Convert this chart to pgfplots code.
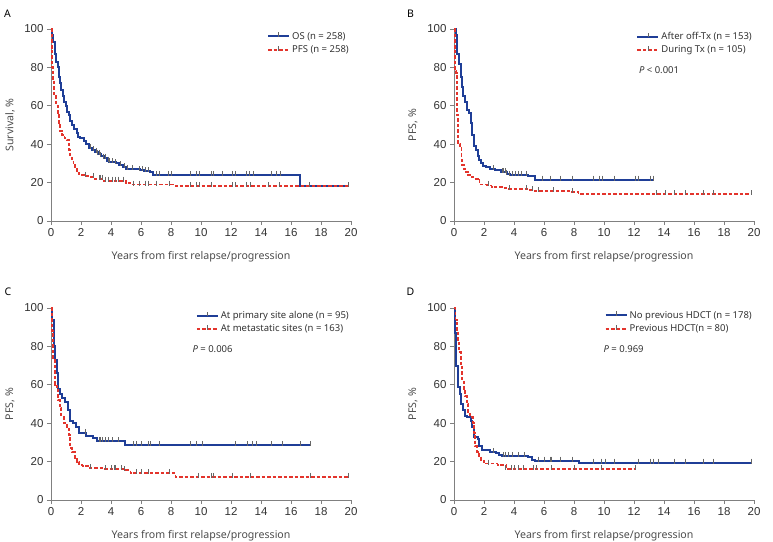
\documentclass[border=0pt]{standalone}
\usepackage{fontspec}
\setmainfont{Noto Sans}
\newfontfamily\tickfont{Liberation Sans}
\usepackage{pgfplots}
\pgfplotsset{compat=1.18}
\definecolor{kmblue}{HTML}{1F3E97}
\definecolor{kmred}{HTML}{E3342C}
\definecolor{axgray}{HTML}{808080}

\pgfplotsset{
  km/.style={
    scale only axis, width=300pt, height=192pt,
    xmin=0,xmax=20,ymin=0,ymax=100,
    axis lines*=left,
    axis line style={axgray, line width=0.8pt},
    xtick={0,2,...,20}, ytick={0,20,...,100},
    tick align=outside, major tick length=4pt,
    tick style={axgray, line width=0.8pt},
    ticklabel style={font=\tickfont\fontsize{11.5}{13}\selectfont, text=black!80},
    /pgf/number format/assume math mode=true,
    xlabel={Years from first relapse/progression},
    every axis x label/.style={at={([yshift=-36pt]axis description cs:0.5,0)}, anchor=center, font=\fontsize{10.6}{12}\selectfont, text=black!70},
    every axis y label/.style={at={([xshift=-41pt]axis description cs:0,0.5)}, rotate=90, anchor=center, font=\fontsize{10.6}{12}\selectfont, text=black!70},
    legend style={draw=none, fill=none, inner sep=0pt, font=\fontsize{9.5}{11}\selectfont, text=black!80, cells={anchor=west}, row sep=1pt, at={(1.0,0.995)}, anchor=north east},
    legend image code/.code={\draw[##1, mark=none] (0pt,0pt) -- (21pt,0pt); \draw[black!60, solid, line width=0.6pt] (10.5pt,-0.8pt) -- (10.5pt,4pt);},
    clip=false,
  },
  osline/.style={const plot, no marks, color=kmblue, line width=2pt, line cap=butt},
  pfsline/.style={const plot, no marks, color=kmred, line width=1.9pt, line cap=butt, dash pattern=on 3.5pt off 2pt},
  cens/.style={only marks, mark=|, mark size=2.5pt, mark options={black!60, line width=0.55pt, yshift=1.5pt, solid}, forget plot},
}

\begin{document}
\begin{tikzpicture}[x=1pt,y=1pt]
\path[use as bounding box] (0,0) rectangle (773,541);

% ---------------- Panel A
\begin{axis}[km, at={(51pt,320pt)}, anchor=south west, ylabel={Survival, \%}]
\addplot[osline] coordinates {(0,100) (0.08,97) (0.15,93) (0.25,87) (0.35,83) (0.45,80) (0.55,75) (0.62,72) (0.7,68) (0.8,65) (0.9,62) (1.0,60) (1.1,57) (1.2,55) (1.3,52) (1.4,50) (1.55,48) (1.7,46) (1.8,44) (1.95,43) (2.2,41.5) (2.35,40) (2.5,38) (2.7,37) (2.9,36) (3.1,35) (3.3,34) (3.5,33) (3.7,31.5) (3.85,30.5) (4.3,30) (4.5,29) (4.8,28) (5.0,27) (5.9,26.5) (6.2,26) (6.6,25.5) (6.8,24) (16.6,18) (19.8,18)};
\addlegendentry{OS (n = 258)}
\addplot[pfsline] coordinates {(0,100) (0.04,90) (0.08,80) (0.14,74) (0.22,65) (0.35,60) (0.45,55) (0.52,50) (0.6,47) (0.75,45) (0.9,43) (1.05,42) (1.2,37) (1.28,33) (1.38,31) (1.5,29) (1.6,27) (1.72,25) (1.88,24) (2.2,23.5) (2.5,23) (2.9,22) (3.5,21) (5.0,20) (5.3,19) (8.3,18) (19.8,18)};
\addlegendentry{PFS (n = 258)}
\addplot[cens] coordinates {(2.6,38) (2.8,37) (3.0,36) (3.1,35) (3.2,35) (3.3,34) (3.5,33) (3.6,33) (3.8,31.5) (3.9,30.5) (4.1,30.5) (4.3,30) (4.6,29) (4.9,28) (5.1,27) (5.4,27) (5.9,26.5) (6.1,26.5) (6.3,26) (6.5,26) (7.0,24) (7.2,24) (7.8,24) (8.0,24) (9.3,24) (9.7,24) (9.9,24) (10.7,24) (10.8,24) (11.4,24) (12.1,24) (12.3,24) (13.0,24) (13.2,24) (13.5,24) (14.7,24) (15.0,24) (15.3,24) (17.2,18) (19.8,18)};
\addplot[cens] coordinates {(2.3,23.5) (2.8,23) (3.2,22) (3.3,22) (3.4,22) (3.6,21) (3.8,21) (4.1,21) (4.3,21) (4.5,21) (4.8,21) (5.5,19) (5.9,19) (6.3,19) (6.5,19) (7.0,19) (7.9,19) (9.3,18) (9.7,18) (9.9,18) (10.7,18) (12.1,18) (12.3,18) (13.0,18) (13.3,18) (14.5,18) (15.2,18) (17.2,18) (19.8,18)};
\end{axis}

% ---------------- Panel B
\begin{axis}[km, at={(454pt,320pt)}, anchor=south west, ylabel={PFS, \%}]
\addplot[osline] coordinates {(0,100) (0.15,97) (0.22,87) (0.32,82) (0.45,75) (0.52,70) (0.6,65) (0.72,62) (0.85,58) (1.0,56) (1.12,51) (1.22,45) (1.32,39) (1.45,37) (1.58,34) (1.68,32) (1.78,30) (1.9,28.5) (2.1,28) (2.4,27) (2.7,26.5) (3.1,25.5) (3.5,24.5) (3.7,24) (4.9,23.5) (5.4,21.5) (13.3,21.5)};
\addlegendentry{After off-Tx (n = 153)}
\addplot[pfsline] coordinates {(0,100) (0.04,90) (0.07,78) (0.15,77) (0.2,55) (0.28,40) (0.42,38) (0.5,32) (0.55,29) (0.65,27) (0.8,25.5) (0.95,24) (1.1,23) (1.3,22) (1.6,21.5) (1.7,19) (2.2,18.5) (2.5,17.5) (3.2,17) (3.6,16.5) (4.9,16) (5.3,15.5) (7.7,15) (8.3,14) (19.8,14)};
\addlegendentry{During Tx (n = 105)}
\addplot[cens] coordinates {(2.6,27) (3.2,25.5) (3.3,25.5) (3.4,25.5) (3.5,24.5) (3.7,24) (3.9,24) (4.1,24) (4.3,24) (4.5,24) (4.8,24) (5.9,21.5) (6.4,21.5) (7.1,21.5) (7.9,21.5) (9.3,21.5) (9.7,21.5) (9.9,21.5) (10.7,21.5) (12.1,21.5) (12.3,21.5) (13.1,21.5) (13.3,21.5)};
\addplot[cens] coordinates {(2.3,18.5) (3.7,16.5) (4.8,16.5) (5.2,16) (5.6,15.5) (6.6,15.5) (7.9,15) (13.5,14) (14.1,14) (14.7,14) (15.4,14) (16.6,14) (17.3,14) (19.8,14)};
\node[anchor=west, font=\fontsize{9.5}{11}\selectfont, text=black!80] at (axis description cs:0.605,0.786) {\textit{P} < 0.001};
\end{axis}

% ---------------- Panel C
\begin{axis}[km, at={(51pt,41pt)}, anchor=south west, ylabel={PFS, \%}]
\addplot[osline] coordinates {(0,100) (0.05,94) (0.18,80) (0.28,73) (0.38,66) (0.48,58) (0.58,55) (0.75,53) (0.95,51) (1.15,47) (1.25,41) (1.45,40) (1.65,38) (1.85,35) (2.35,33.5) (2.8,32.5) (3.05,30.5) (4.9,28.5) (17.3,28.5)};
\addlegendentry{At primary site alone (n = 95)}
\addplot[pfsline] coordinates {(0,100) (0.05,88) (0.14,73) (0.24,60) (0.38,58) (0.48,52) (0.58,48) (0.68,44) (0.85,40) (1.05,38) (1.18,34) (1.28,27) (1.42,25) (1.58,22) (1.72,20) (1.88,18) (2.1,17.5) (2.6,16.5) (3.5,16) (4.9,15.5) (5.3,14) (8.3,12) (19.8,12)};
\addlegendentry{At metastatic sites (n = 163)}
\addplot[cens] coordinates {(2.3,35) (3.2,30.5) (3.3,30.5) (3.4,30.5) (3.6,30.5) (3.8,30.5) (4.1,30.5) (4.5,30.5) (5.5,28.5) (5.7,28.5) (6.0,28.5) (6.5,28.5) (6.6,28.5) (7.2,28.5) (9.3,28.5) (9.7,28.5) (10.1,28.5) (12.3,28.5) (13.1,28.5) (13.4,28.5) (13.7,28.5) (14.7,28.5) (15.4,28.5) (16.6,28.5) (17.3,28.5)};
\addplot[cens] coordinates {(2.6,16.5) (3.6,16) (4.0,16) (4.2,16) (4.3,16) (4.7,16) (4.9,15.5) (5.7,14) (6.0,14) (6.5,14) (7.9,14) (9.8,12) (10.7,12) (10.8,12) (12.1,12) (13.3,12) (17.3,12) (19.8,12)};
\node[anchor=west, font=\fontsize{9.5}{11}\selectfont, text=black!80] at (axis description cs:0.46,0.786) {\textit{P} = 0.006};
\end{axis}

% ---------------- Panel D
\begin{axis}[km, at={(454pt,41pt)}, anchor=south west, ylabel={PFS, \%}]
\addplot[osline] coordinates {(0,100) (0.05,87) (0.14,70) (0.24,59) (0.38,55) (0.48,50) (0.58,47) (0.72,44) (0.88,43) (1.12,41) (1.22,38) (1.32,33) (1.58,32) (1.68,28) (1.88,26) (2.4,25) (2.8,24.5) (3.0,23.5) (3.2,23) (4.9,22.5) (5.2,21) (5.4,20.5) (8.3,19.5) (19.8,19.5)};
\addlegendentry{No previous HDCT (n = 178)}
\addplot[pfsline] coordinates {(0,100) (0.1,94) (0.18,88) (0.25,82) (0.35,77) (0.45,70) (0.55,63) (0.65,58) (0.75,54) (0.85,50) (0.95,46) (1.08,43) (1.25,40) (1.35,35) (1.42,28) (1.55,25) (1.68,23) (1.82,21) (1.98,19) (2.9,18) (3.5,16) (12.1,16)};
\addlegendentry{Previous HDCT(n = 80)}
\addplot[cens] coordinates {(2.6,25) (3.3,23) (3.4,23) (3.6,23) (3.9,23) (4.3,23) (4.7,23) (5.6,20.5) (6.0,20.5) (6.4,20.5) (6.5,20.5) (7.1,20.5) (7.9,20.5) (9.3,19.5) (9.8,19.5) (10.1,19.5) (10.7,19.5) (12.3,19.5) (13.1,19.5) (13.3,19.5) (13.6,19.5) (14.7,19.5) (15.4,19.5) (16.6,19.5) (17.3,19.5) (19.8,19.5)};
\addplot[cens] coordinates {(2.3,19) (3.4,16) (3.8,16) (4.0,16) (4.3,16) (4.6,16) (5.3,16) (5.5,16) (6.5,16) (8.0,16) (9.8,16) (12.1,16)};
\node[anchor=west, font=\fontsize{9.5}{11}\selectfont, text=black!80] at (axis description cs:0.487,0.786) {\textit{P} = 0.969};
\end{axis}

% panel letters
\node[font=\bfseries\fontsize{10.5}{12}\selectfont] at (7.5,527.5) {A};
\node[font=\bfseries\fontsize{10.5}{12}\selectfont] at (410.5,527.5) {B};
\node[font=\bfseries\fontsize{10.5}{12}\selectfont] at (8,249) {C};
\node[font=\bfseries\fontsize{10.5}{12}\selectfont] at (410.5,249) {D};
\end{tikzpicture}
\end{document}
